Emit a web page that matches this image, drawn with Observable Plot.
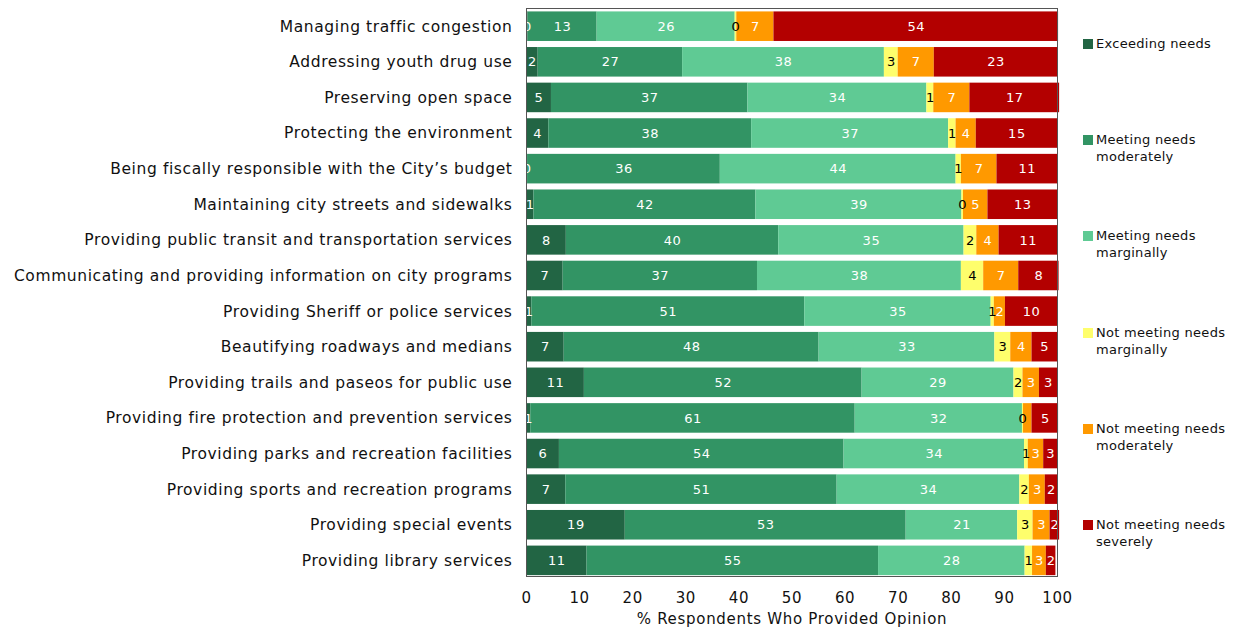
<!DOCTYPE html>
<html><head><meta charset="utf-8">
<script src="https://cdn.jsdelivr.net/npm/d3@7"></script>
<script src="https://cdn.jsdelivr.net/npm/@observablehq/plot@0.6"></script>
<style>
body{margin:0;background:#fff;font-family:"DejaVu Sans",sans-serif;}
#wrap{position:relative;width:1237px;height:627px;}
.item{position:absolute;left:1083px;display:flex;align-items:flex-start;font-size:13px;color:#111;width:154px;line-height:17px;letter-spacing:0.3px}
.sw{width:10px;height:10px;margin-right:3px;margin-top:4px;flex:none}
g[aria-label="y-axis tick label"] text{letter-spacing:0.6px}
g[aria-label="x-axis tick label"] text{letter-spacing:0.6px}
g[aria-label="x-axis label"] text{letter-spacing:0.7px}
g[aria-label="text"] text{letter-spacing:0.5px}
</style></head><body><div id="wrap"></div>
<script>
const items = [
  "Managing traffic congestion",
  "Addressing youth drug use",
  "Preserving open space",
  "Protecting the environment",
  "Being fiscally responsible with the City’s budget",
  "Maintaining city streets and sidewalks",
  "Providing public transit and transportation services",
  "Communicating and providing information on city programs",
  "Providing Sheriff or police services",
  "Beautifying roadways and medians",
  "Providing trails and paseos for public use",
  "Providing fire protection and prevention services",
  "Providing parks and recreation facilities",
  "Providing sports and recreation programs",
  "Providing special events",
  "Providing library services"
];
const series = [
  "Exceeding needs",
  "Meeting needs moderately",
  "Meeting needs marginally",
  "Not meeting needs marginally",
  "Not meeting needs moderately",
  "Not meeting needs severely"
];
const exceeding         = [0.3, 2.2, 4.7, 4.2, 0.2, 1.4, 7.5, 6.9, 1.0, 7.1, 10.9, 0.8, 6.2, 7.4, 18.6, 11.4];
const meetingModerately = [13.0, 27.2, 37.0, 38.2, 36.3, 41.8, 40.0, 36.6, 51.4, 48.0, 52.3, 61.1, 53.6, 51.1, 52.9, 54.9];
const meetingMarginally = [26.0, 38.0, 33.7, 37.1, 44.4, 38.8, 34.9, 38.4, 35.1, 33.1, 28.6, 31.5, 34.0, 34.4, 21.0, 27.6];
const notMarginally     = [0.3, 2.6, 1.3, 1.4, 1.0, 0.3, 2.4, 4.2, 0.6, 3.0, 1.7, 0.2, 0.7, 1.8, 2.9, 1.4];
const notModerately     = [7.0, 6.8, 6.8, 3.8, 6.7, 4.6, 4.2, 6.6, 2.1, 4.0, 3.1, 1.6, 2.9, 3.0, 3.2, 2.6];
const notSeverely       = [53.6, 23.2, 16.9, 15.3, 11.4, 13.1, 11.0, 7.6, 9.8, 4.8, 3.4, 5.0, 2.6, 2.3, 1.8, 1.8];
const unlabeled = [["Providing fire protection and prevention services", "Not meeting needs moderately"]];
const xTicks = [0, 10, 20, 30, 40, 50, 60, 70, 80, 90, 100];
const colors = ["#226544", "#329464", "#5fca94", "#fefe6c", "#ff9900", "#b30000"];
const labelColors = ["#ffffff", "#ffffff", "#ffffff", "#000000", "#ffffff", "#ffffff"];

const valueArrays = [exceeding, meetingModerately, meetingMarginally, notMarginally, notModerately, notSeverely];
const rows = [];
items.forEach((item, i) => {
  let acc = 0;
  series.forEach((s, j) => {
    const v = valueArrays[j][i];
    rows.push({item, series: s, si: j, v, x1: acc, x2: acc + v, label: String(Math.round(v)),
      show: !unlabeled.some(u => u[0] === item && u[1] === s)});
    acc += v;
  });
});

const chart = Plot.plot({
  width: 1237,
  height: 627,
  marginLeft: 526,
  marginRight: 180,
  marginTop: 8,
  marginBottom: 51,
  style: {fontFamily: "DejaVu Sans, sans-serif", color: "#111", background: "#fff"},
  x: {domain: [0, 100]},
  y: {domain: items, paddingInner: 0.17, paddingOuter: 0.06, align: 0.8, round: false},
  color: {domain: series, range: colors},
  marks: [
    Plot.barX(rows, {x1: "x1", x2: "x2", y: "item", fill: "series"}),
    Plot.text(rows.filter(d => d.show && labelColors[d.si] === "#ffffff"), {
      x: d => (d.x1 + d.x2) / 2, y: "item", text: "label", fill: "#ffffff",
      fontSize: 13, clip: true
    }),
    Plot.text(rows.filter(d => d.show && labelColors[d.si] === "#000000"), {
      x: d => (d.x1 + d.x2) / 2, y: "item", text: "label", fill: "#000000",
      fontSize: 13, clip: true
    }),
    Plot.frame({stroke: "#555"}),
    Plot.axisY({tickSize: 0, tickPadding: 14, fontSize: 15.5, label: null}),
    Plot.axisX({ticks: xTicks, tickSize: 0, tickPadding: 16, fontSize: 15, tickFormat: d => String(d),
      label: "% Respondents Who Provided Opinion", labelAnchor: "center", labelArrow: "none", labelOffset: 47})
  ]
});
const wrap = document.getElementById("wrap");
wrap.appendChild(chart);
series.forEach((s, i) => {
  const div = document.createElement("div");
  div.className = "item";
  div.style.top = (35 + i * 96.2) + "px";
  const sw = document.createElement("div");
  sw.className = "sw";
  sw.style.background = colors[i];
  const tx = document.createElement("div");
  tx.textContent = s;
  div.appendChild(sw); div.appendChild(tx);
  wrap.appendChild(div);
});
</script>
</body></html>
